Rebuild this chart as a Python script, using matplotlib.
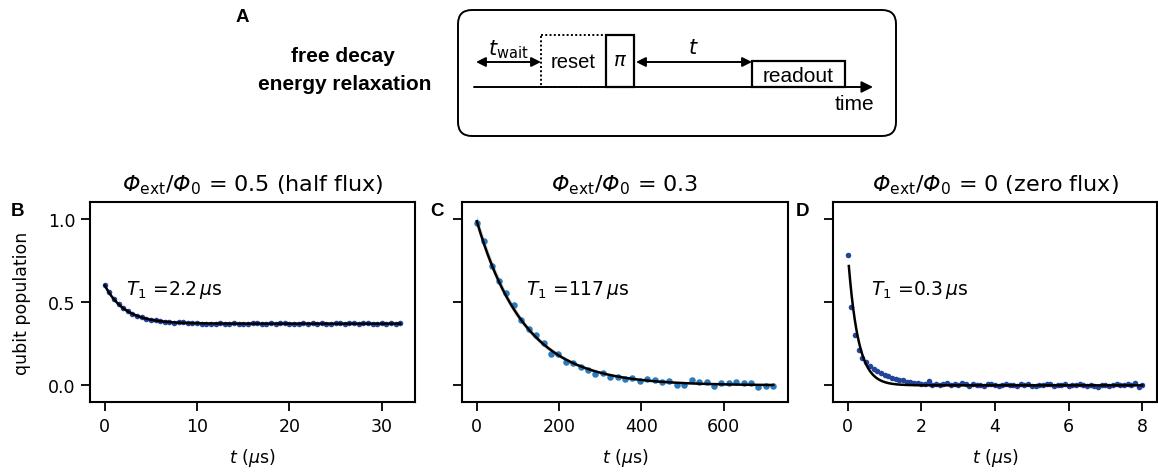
import numpy as np
import matplotlib
matplotlib.use("Agg")
import matplotlib.pyplot as plt
from matplotlib.patches import FancyBboxPatch, Rectangle, FancyArrowPatch

plt.rcParams['font.family'] = ['DejaVu Sans']
plt.rcParams['mathtext.fontset'] = 'custom'
plt.rcParams['mathtext.rm'] = 'DejaVu Sans'
plt.rcParams['mathtext.it'] = 'DejaVu Sans:italic'
plt.rcParams['mathtext.bf'] = 'DejaVu Sans:bold'
plt.rcParams['mathtext.sf'] = 'DejaVu Sans:italic'
plt.rcParams['mathtext.fallback'] = 'stixsans'

# ---------------- data ----------------
tB = [0.0, 0.5, 1.0, 1.5, 2.0, 2.5, 3.0, 3.5, 4.0, 4.5, 5.0, 5.5, 6.0, 6.5, 7.0, 7.5,
      8.0, 8.5, 9.0, 9.5, 10.0, 10.5, 11.0, 11.5, 12.0, 12.5, 13.0, 13.5, 14.0, 14.5,
      15.0, 15.5, 16.0, 16.5, 17.0, 17.5, 18.0, 18.5, 19.0, 19.5, 20.0, 20.5, 21.0,
      21.5, 22.0, 22.5, 23.0, 23.5, 24.0, 24.5, 25.0, 25.5, 26.0, 26.5, 27.0, 27.5,
      28.0, 28.5, 29.0, 29.5, 30.0, 30.5, 31.0, 31.5, 32.0]
pB = [0.600, 0.560, 0.520, 0.490, 0.465, 0.445, 0.428, 0.418, 0.410, 0.400, 0.395,
      0.392, 0.386, 0.383, 0.380, 0.376, 0.378, 0.382, 0.376, 0.375, 0.372, 0.368,
      0.366, 0.371, 0.369, 0.372, 0.367, 0.370, 0.373, 0.369, 0.371, 0.366, 0.372,
      0.374, 0.370, 0.368, 0.373, 0.369, 0.372, 0.375, 0.370, 0.368, 0.371, 0.374,
      0.369, 0.372, 0.370, 0.376, 0.371, 0.368, 0.372, 0.374, 0.370, 0.376, 0.372,
      0.370, 0.375, 0.377, 0.371, 0.367, 0.372, 0.370, 0.374, 0.371, 0.372]
fitB = dict(amp=0.23, T1=2.2, off=0.37)

tC = [0, 18, 36, 54, 72, 90, 108, 126, 144, 162, 180, 198, 216, 234, 252, 270, 288,
      306, 324, 342, 360, 378, 396, 414, 432, 450, 468, 486, 504, 522, 540, 558, 576,
      594, 612, 630, 648, 666, 684, 702, 720]
pC = [0.976, 0.864, 0.716, 0.624, 0.554, 0.484, 0.394, 0.340, 0.300, 0.254, 0.186,
      0.186, 0.140, 0.136, 0.110, 0.090, 0.066, 0.076, 0.050, 0.050, 0.036, 0.044,
      0.026, 0.040, 0.030, 0.020, 0.026, 0.000, 0.000, 0.030, 0.020, 0.020, -0.004,
      0.016, 0.016, 0.020, 0.012, 0.012, -0.008, -0.004, -0.004]
fitC = dict(amp=0.985, T1=117.0, off=0.0)

tD = [0.0, 0.1, 0.2, 0.3, 0.4, 0.5, 0.6, 0.7, 0.8, 0.9, 1.0, 1.1, 1.2, 1.3, 1.4, 1.5,
      1.6, 1.7, 1.8, 1.9, 2.0, 2.1, 2.2, 2.3, 2.4, 2.5, 2.6, 2.7, 2.8, 2.9, 3.0, 3.1,
      3.2, 3.3, 3.4, 3.5, 3.6, 3.7, 3.8, 3.9, 4.0, 4.1, 4.2, 4.3, 4.4, 4.5, 4.6, 4.7,
      4.8, 4.9, 5.0, 5.1, 5.2, 5.3, 5.4, 5.5, 5.6, 5.7, 5.8, 5.9, 6.0, 6.1, 6.2, 6.3,
      6.4, 6.5, 6.6, 6.7, 6.8, 6.9, 7.0, 7.1, 7.2, 7.3, 7.4, 7.5, 7.6, 7.7, 7.8, 7.9, 8.0]
pD = [0.780, 0.470, 0.300, 0.210, 0.165, 0.140, 0.115, 0.100, 0.088, 0.075, 0.065,
      0.055, 0.045, 0.040, 0.032, 0.030, 0.022, 0.020, 0.012, 0.015, 0.010, 0.008,
      0.025, 0.005, 0.010, 0.000, 0.008, 0.012, 0.002, 0.006, 0.004, 0.012, 0.008,
      -0.004, 0.006, 0.000, 0.004, -0.002, 0.006, 0.008, 0.002, -0.003, 0.005, 0.006,
      0.000, 0.004, -0.004, 0.006, 0.002, 0.008, -0.002, -0.006, 0.004, 0.000, 0.006,
      0.010, -0.002, 0.004, 0.000, 0.006, -0.004, 0.002, 0.004, 0.010, 0.000, -0.004,
      0.004, -0.006, -0.008, 0.000, 0.004, -0.002, 0.002, 0.006, 0.000, 0.004, 0.008,
      0.002, 0.012, -0.008, 0.004]
fitD = dict(amp=0.80, T1=0.27, off=0.0, t0=0.03)

titles = [r"$\mathsf{\Phi}_{\mathrm{ext}}/\mathsf{\Phi}_0$ = 0.5 (half flux)",
          r"$\mathsf{\Phi}_{\mathrm{ext}}/\mathsf{\Phi}_0$ = 0.3",
          r"$\mathsf{\Phi}_{\mathrm{ext}}/\mathsf{\Phi}_0$ = 0 (zero flux)"]
t1_labels = [r"$T_1$ =2.2$\,\mu$s", r"$T_1$ =117$\,\mu$s", r"$T_1$ =0.3$\,\mu$s"]
panel_letters = ["B", "C", "D"]
xticks = [[0, 10, 20, 30], [0, 200, 400, 600], [0, 2, 4, 6, 8]]
yticks = [0.0, 0.5, 1.0]

dark_blue = "#23449b"
light_blue = "#2a7bbd"

W, H = 1158, 477
fig = plt.figure(figsize=(W / 100, H / 100), dpi=100)

def fa(l, t, r, b):
    return [l / W, 1 - b / H, (r - l) / W, (b - t) / H]

axB = fig.add_axes(fa(90, 203, 415, 403))
axC = fig.add_axes(fa(462, 203, 788, 403), sharey=axB)
axD = fig.add_axes(fa(833, 203, 1157, 403), sharey=axB)
axes = [axB, axC, axD]

def expo(t, amp, T1, off):
    return off + amp * np.exp(-np.asarray(t) / T1)

# B
axB.scatter(tB, pB, s=16, color=dark_blue, zorder=2, linewidths=0)
tt = np.linspace(tB[0], tB[-1], 400)
axB.plot(tt, expo(tt, fitB['amp'], fitB['T1'], fitB['off']), color='black', lw=1.8, zorder=3)

# C
tt = np.linspace(tC[0], tC[-1], 400)
yc = expo(tt, fitC['amp'], fitC['T1'], fitC['off'])
band = 0.035 * np.exp(-tt / 150.0) + 0.003
axC.fill_between(tt, yc - band, yc + band, color='#c8c8c8', alpha=0.8, lw=0, zorder=1)
axC.scatter(tC, pC, s=22, color=light_blue, zorder=2, linewidths=0)
axC.plot(tt, yc, color='black', lw=1.8, zorder=3)

# D
axD.scatter(tD, pD, s=16, color=dark_blue, zorder=2, linewidths=0)
tt = np.linspace(fitD['t0'], tD[-1], 600)
axD.plot(tt, expo(tt, fitD['amp'], fitD['T1'], fitD['off']), color='black', lw=1.8, zorder=3)

text_pos = [(0.11, 0.565), (0.196, 0.565), (0.117, 0.565)]
for i, ax in enumerate(axes):
    ax.set_ylim(-0.1, 1.1)
    ax.set_yticks(yticks)
    ax.set_xticks(xticks[i])
    ax.tick_params(labelsize=12.5, length=6.5, width=1.3, direction='out', pad=4)
    for sp in ax.spines.values():
        sp.set_linewidth(1.5)
    ax.set_xlabel(r"$t$ ($\mu$s)", fontsize=12.5, labelpad=8)
    ax.set_title(titles[i], fontsize=16, pad=8)
    ax.text(text_pos[i][0], text_pos[i][1], t1_labels[i], transform=ax.transAxes,
            fontsize=13.5, va='center', ha='left')
    if i > 0:
        plt.setp(ax.get_yticklabels(), visible=False)
axB.set_ylabel("qubit population", fontsize=12.5, labelpad=12)

# panel letters
for lx, letter in zip([18, 437, 802], panel_letters):
    fig.text(lx / W, 1 - 212 / H, letter, fontsize=13.5, fontweight='bold',
             family='Liberation Sans', ha='center', va='center')

# ---------------- schematic (A) ----------------
sa = fig.add_axes([0, 0, 1, 1], zorder=-1)
sa.set_xlim(0, W)
sa.set_ylim(H, 0)
sa.axis('off')

sf = 'Liberation Sans'
sa.text(242, 18, "A", fontsize=13.5, fontweight='bold', family=sf, ha='center', va='center')
sa.text(343, 57, "free decay", fontsize=15, fontweight='bold', family=sf, ha='center', va='center')
sa.text(345, 85, "energy relaxation", fontsize=15, fontweight='bold', family=sf, ha='center', va='center')

box = FancyBboxPatch((458, 11), 438, 126, boxstyle="round,pad=0,rounding_size=14",
                     fc='white', ec='black', lw=1.4)
sa.add_patch(box)

# time axis
sa.add_patch(FancyArrowPatch((474, 88), (873, 88), arrowstyle='-|>', mutation_scale=17,
                             color='black', lw=1.4, shrinkA=0, shrinkB=0))
sa.text(854, 105, "time", fontsize=15, family=sf, ha='center', va='center')

# reset (dotted)
sa.add_patch(Rectangle((541, 36), 65, 52, fc='none', ec='black', lw=1.4, ls=(0, (1, 1.2))))
sa.text(573, 63, "reset", fontsize=14.5, family=sf, ha='center', va='center')
# pi pulse
sa.add_patch(Rectangle((606, 36), 28, 52, fc='white', ec='black', lw=1.6))
sa.text(620, 61, r"$\pi$", fontsize=14, ha='center', va='center')
# readout
sa.add_patch(Rectangle((752, 62), 93, 26, fc='white', ec='black', lw=1.6))
sa.text(798, 76, "readout", fontsize=15, family=sf, ha='center', va='center')

# double arrows
for (x0, x1) in [(476, 541), (636, 752)]:
    sa.add_patch(FancyArrowPatch((x0, 63), (x1, 63), arrowstyle='<|-|>', mutation_scale=14,
                                 color='black', lw=1.4, shrinkA=0, shrinkB=0))
sa.text(508, 50, r"$t_{\mathrm{wait}}$", fontsize=15, ha='center', va='center')
sa.text(693, 48, r"$t$", fontsize=15, ha='center', va='center')

fig.savefig("out.png", dpi=100)
